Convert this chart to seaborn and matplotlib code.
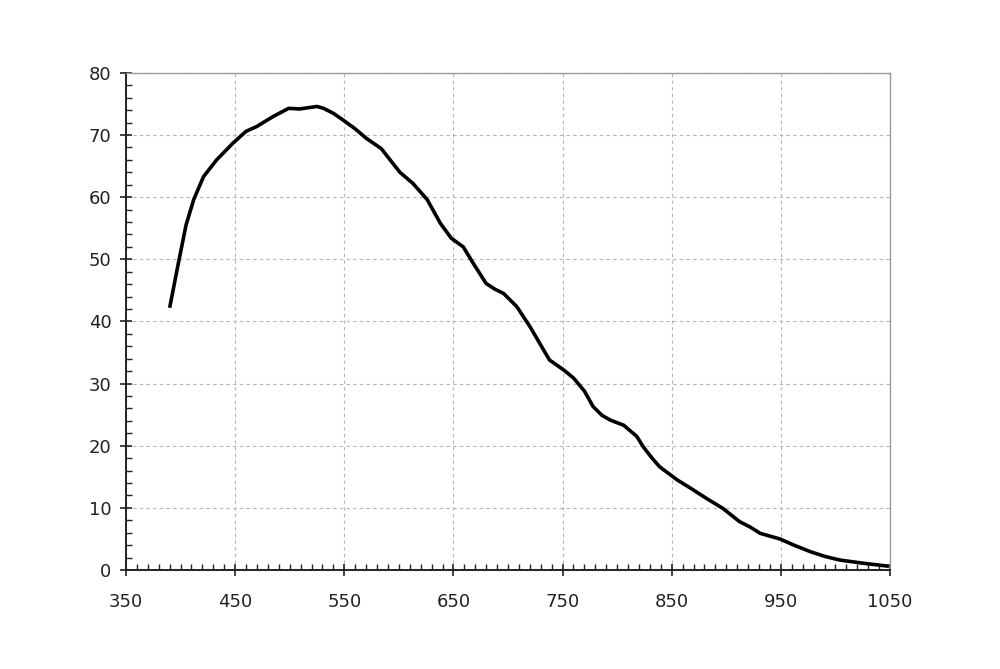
import numpy as np
import pandas as pd
import matplotlib
matplotlib.use("Agg")
import matplotlib.pyplot as plt
import seaborn as sns
from matplotlib.ticker import MultipleLocator

# curve
wavelength = [390, 398, 405, 412, 421, 433, 448, 460, 470, 485, 499, 509, 517, 525, 531,
              540, 549, 560, 570, 584, 592, 601, 613, 626, 638, 648, 659, 668, 680, 688, 696, 708, 720,
              730, 738, 751, 760, 770, 778, 786, 794, 806, 818, 824, 832, 839, 855, 867, 882, 897, 912,
              922, 931, 949, 962, 977, 990, 1004, 1025, 1049]
response = [42.2, 49.4, 55.5, 59.6, 63.3, 66.0, 68.7, 70.6, 71.4, 73.0, 74.3, 74.2, 74.4, 74.6, 74.3,
            73.5, 72.4, 71.0, 69.5, 67.8, 66.0, 64.0, 62.2, 59.6, 55.8, 53.4, 52.0, 49.4, 46.1, 45.2, 44.5, 42.4, 39.2,
            36.2, 33.8, 32.2, 30.9, 28.8, 26.3, 24.9, 24.1, 23.3, 21.5, 19.8, 18.0, 16.6, 14.5, 13.2, 11.5, 9.9, 7.8,
            6.9, 5.9, 5.0, 4.0, 2.95, 2.2, 1.6, 1.1, 0.6]

x_ticks = [350, 450, 550, 650, 750, 850, 950, 1050]
y_ticks = [0, 10, 20, 30, 40, 50, 60, 70, 80]

sns.set_style("white")
plt.rcParams['font.family'] = ['DejaVu Sans']

df = pd.DataFrame({"wavelength": wavelength, "response": response})

fig = plt.figure(figsize=(10, 6.69), dpi=100)
ax = fig.add_axes([0.126, 0.148, 0.764, 0.743])

sns.lineplot(data=df, x="wavelength", y="response", ax=ax, color="black",
             linewidth=2.6, solid_joinstyle="round", solid_capstyle="butt")

ax.set_xlim(350, 1050)
ax.set_ylim(0, 80)
ax.set_xticks(x_ticks)
ax.set_yticks(y_ticks)
ax.xaxis.set_minor_locator(MultipleLocator(10))
ax.yaxis.set_minor_locator(MultipleLocator(2))
ax.set_xlabel("")
ax.set_ylabel("")

ax.grid(True, which="major", color="#b5b5b5", linestyle=(0, (3, 3)), linewidth=0.8)
ax.set_axisbelow(True)

ax.tick_params(axis="both", which="both", bottom=True, left=True, top=False, right=False)
ax.tick_params(axis="both", which="major", direction="inout", length=9, width=1.2,
               color="#222222", labelsize=13, labelcolor="#222222")
ax.tick_params(axis="x", which="major", pad=12)
ax.tick_params(axis="y", which="major", pad=6)
ax.tick_params(axis="both", which="minor", direction="in", length=4.5, width=1.0,
               color="#222222")

for side in ["left", "bottom"]:
    ax.spines[side].set_color("#222222")
    ax.spines[side].set_linewidth(1.4)
for side in ["top", "right"]:
    ax.spines[side].set_color("#9a9a9a")
    ax.spines[side].set_linewidth(1.0)

fig.savefig("out.png", dpi=100, facecolor="white")
